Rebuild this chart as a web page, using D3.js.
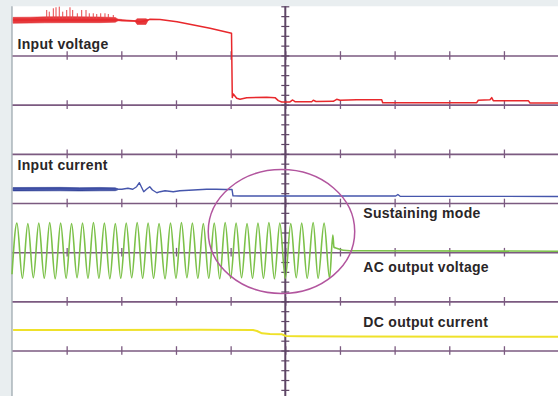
<!DOCTYPE html>
<html>
<head>
<meta charset="utf-8">
<script src="https://cdn.jsdelivr.net/npm/d3@7"></script>
<style>
  html, body { margin: 0; padding: 0; background: #e9eef0; }
  svg { display: block; }
  .label { font-family: "Liberation Sans", Arial, sans-serif; font-weight: bold; font-size: 14px; fill: #2a2627; letter-spacing: 0.3px; }
</style>
</head>
<body>
<div id="chart"></div>
<script>
// scope screen, in divisions: time -5..5, amplitude -4..4 (centre = 0,0)
const timeDivs = [-4, -3, -2, -1, 0, 1, 2, 3, 4];
const gridRows = [-3, -2, -1, 0, 1, 2, 3];

const traceLabels = ["Input voltage", "Input current", "Sustaining mode", "AC output voltage", "DC output current"];

// input voltage (red): [t, v]
const inputVoltage = [
  [-4.98, 3.722], [-3.06, 3.722], [-2.99, 3.712], [-2.75, 3.701], [-2.66, 3.681],
  [-2.51, 3.722], [-2.475, 3.736], [-2.292, 3.732], [-1.981, 3.685], [-1.377, 3.553],
  [-0.984, 3.451], [-0.970, 2.146], [-0.951, 2.217], [-0.889, 2.129], [-0.829, 2.109],
  [-0.706, 2.142], [-0.340, 2.150], [-0.188, 2.142], [-0.128, 2.081], [-0.066, 2.055],
  [0.086, 2.055], [0.135, 2.095], [0.177, 2.060], [0.483, 2.060], [0.512, 2.089],
  [0.562, 2.064], [0.878, 2.068], [0.940, 2.109], [1.001, 2.089], [1.306, 2.101],
  [1.764, 2.101], [1.782, 2.040], [3.502, 2.040], [3.531, 2.089], [3.745, 2.101],
  [3.776, 2.142], [3.805, 2.081], [4.446, 2.081], [4.477, 2.034], [5.0, 2.034]
];
// noisy envelope of the input voltage: [t, low, high]
const inputVoltageNoise = [
  [-4.98, 3.655, 3.775], [-4.67, 3.660, 3.778], [-4.40, 3.665, 3.785], [-3.94, 3.668, 3.790],
  [-3.39, 3.668, 3.782], [-3.11, 3.676, 3.772], [-3.06, 3.705, 3.738],
  [-2.75, 3.695, 3.708], [-2.71, 3.630, 3.748], [-2.55, 3.630, 3.748], [-2.51, 3.712, 3.728]
];
// glitches on the input voltage: [t, top]
const inputVoltageSpikes = [
  [-4.365, 3.925], [-4.318, 3.891], [-4.244, 3.960], [-4.195, 3.980], [-4.135, 3.993],
  [-4.072, 3.891], [-3.999, 3.925], [-3.939, 3.980], [-3.890, 3.925], [-3.805, 3.858],
  [-3.725, 3.925], [-3.646, 3.925], [-3.586, 3.858], [-3.513, 3.858], [-3.450, 3.844],
  [-3.377, 3.858], [-3.299, 3.858], [-3.238, 3.844], [-3.147, 3.823]
];

// input current (blue)
const inputCurrent = [
  [-4.98, 0.279], [-3.06, 0.279], [-2.99, 0.279], [-2.88, 0.299], [-2.79, 0.279],
  [-2.72, 0.331], [-2.67, 0.413], [-2.63, 0.319], [-2.59, 0.230], [-2.54, 0.279],
  [-2.48, 0.331], [-2.43, 0.264], [-2.35, 0.209], [-2.29, 0.230], [-2.20, 0.250],
  [-2.05, 0.230], [-1.93, 0.250], [-1.68, 0.264], [-1.44, 0.279], [-1.26, 0.279],
  [-1.10, 0.275], [-0.975, 0.275], [-0.957, 0.146], [-0.829, 0.142], [0.27, 0.142],
  [2.02, 0.142], [2.06, 0.173], [2.10, 0.138], [5.0, 0.132]
];
const inputCurrentNoise = [
  [-4.98, 0.245, 0.315], [-4.12, 0.248, 0.318], [-3.76, 0.244, 0.312],
  [-3.39, 0.248, 0.316], [-3.11, 0.250, 0.308], [-3.06, 0.268, 0.286]
];

// AC output voltage (green): turning points of the sine, then the cut-off
const acOutput = [
  [-5.00, -1.45],
  [-4.91, -0.41], [-4.81, -1.53], [-4.71, -0.42], [-4.61, -1.52], [-4.51, -0.41], [-4.41, -1.53],
  [-4.31, -0.40], [-4.21, -1.54], [-4.11, -0.41], [-4.01, -1.53], [-3.91, -0.42], [-3.81, -1.52],
  [-3.71, -0.41], [-3.61, -1.53], [-3.51, -0.40], [-3.41, -1.53], [-3.31, -0.41], [-3.21, -1.54],
  [-3.11, -0.42], [-3.01, -1.53], [-2.91, -0.41], [-2.81, -1.52], [-2.71, -0.40], [-2.61, -1.53],
  [-2.51, -0.41], [-2.41, -1.53], [-2.31, -0.42], [-2.20, -1.54], [-2.10, -0.41], [-2.00, -1.53],
  [-1.90, -0.40], [-1.80, -1.52], [-1.70, -0.41], [-1.60, -1.53], [-1.50, -0.42], [-1.40, -1.53],
  [-1.30, -0.41], [-1.20, -1.54], [-1.10, -0.40], [-1.00, -1.53], [-0.90, -0.41], [-0.80, -1.52],
  [-0.70, -0.42], [-0.60, -1.53], [-0.50, -0.41], [-0.40, -1.53], [-0.30, -0.40], [-0.20, -1.54],
  [-0.10, -0.41], [0.00, -1.53], [0.10, -0.42], [0.20, -1.52], [0.30, -0.41], [0.40, -1.53],
  [0.51, -0.40], [0.60, -1.53], [0.71, -0.41], [0.81, -1.53],
  [0.87, -0.65], [0.89, -0.90], [0.94, -0.92], [1.06, -0.96], [1.18, -0.97], [5.0, -0.98]
];

// DC output current (yellow)
const dcOutput = [
  [-4.98, -2.583], [-3.39, -2.583], [-1.56, -2.579], [-0.591, -2.583], [-0.518, -2.603],
  [-0.426, -2.650], [-0.280, -2.664], [-0.060, -2.670], [0.013, -2.705], [0.269, -2.711],
  [1.184, -2.715], [5.0, -2.721]
];

// highlighted region (ellipse): centre and radii in divisions
const highlight = { t: -0.07, v: -0.58, rt: 1.34, rv: 1.26 };

const W = 558, H = 396;
const x = d3.scaleLinear().domain([-5, 5]).range([12, 558.6]);
const y = d3.scaleLinear().domain([-4, 4]).range([399.7, 6.3]);

const svg = d3.select("#chart").append("svg")
  .attr("width", W).attr("height", H);

// screen
svg.append("rect")
  .attr("x", x(-5)).attr("y", y(4))
  .attr("width", x(5) - x(-5)).attr("height", H)
  .attr("fill", "#fff");
svg.append("line")
  .attr("x1", x(-5)).attr("x2", x(-5)).attr("y1", y(4)).attr("y2", H)
  .attr("stroke", "#98a3aa").attr("stroke-width", 1.2);

const grid = svg.append("g").attr("class", "grid");
const gridColor = "#7b5a80";

// horizontal rows, each with a tick at every time division
gridRows.forEach(r => {
  const row = grid.append("g").attr("transform", "translate(0," + y(r) + ")");
  row.call(d3.axisBottom(x).tickValues(timeDivs).tickSizeOuter(0).tickFormat(""));
  row.select(".domain").attr("stroke", gridColor).attr("stroke-width", 1.6);
  row.selectAll(".tick line").attr("y1", -4.3).attr("y2", 4.3)
    .attr("stroke", gridColor).attr("stroke-width", 1.3);
});

// centre vertical with minor ticks every 1/5 division
const minorTicks = d3.range(-4, 4.001, 0.2);
const centre = grid.append("g").attr("transform", "translate(" + x(0) + ",0)");
centre.call(d3.axisLeft(y).tickValues(minorTicks).tickSizeOuter(0).tickFormat(""));
centre.select(".domain").attr("d", "M0," + y(4) + "V" + H)
  .attr("stroke", "#5e4565").attr("stroke-width", 2);
centre.selectAll(".tick line").attr("x1", -4).attr("x2", 4)
  .attr("stroke", "#5e4565").attr("stroke-width", 1.2);

const line = d3.line().x(d => x(d[0])).y(d => y(d[1]));
const band = d3.area().x(d => x(d[0])).y0(d => y(d[1])).y1(d => y(d[2]));

const traces = svg.append("g").attr("fill", "none").attr("stroke-linejoin", "round");

// input voltage
traces.append("path").datum(inputVoltageNoise).attr("d", band)
  .attr("fill", "#e5393c").attr("stroke", "#e5393c").attr("stroke-width", 0.6);
traces.selectAll(".spike").data(inputVoltageSpikes).join("line")
  .attr("class", "spike")
  .attr("x1", d => x(d[0])).attr("x2", d => x(d[0]))
  .attr("y1", y(3.75)).attr("y2", d => y(d[1]))
  .attr("stroke", "#e8474a").attr("stroke-width", 1);
traces.append("path").datum(inputVoltage).attr("d", line)
  .attr("stroke", "#e8282c").attr("stroke-width", 1.5);

// input current
traces.append("path").datum(inputCurrentNoise).attr("d", band)
  .attr("fill", "#34459a").attr("stroke", "#34459a").attr("stroke-width", 0.6);
traces.append("path").datum(inputCurrent).attr("d", line)
  .attr("stroke", "#4656ac").attr("stroke-width", 1.4);

// AC output voltage
traces.append("path").datum(acOutput).attr("d", line.curve(d3.curveMonotoneX))
  .attr("stroke", "#7cc149").attr("stroke-width", 1.6);
line.curve(d3.curveLinear);

// DC output current
traces.append("path").datum(dcOutput).attr("d", line)
  .attr("stroke", "#efe12a").attr("stroke-width", 2);

// highlight ellipse
svg.append("ellipse")
  .attr("cx", x(highlight.t)).attr("cy", y(highlight.v))
  .attr("rx", x(highlight.rt) - x(0)).attr("ry", y(0) - y(highlight.rv))
  .attr("fill", "none").attr("stroke", "#b2559e").attr("stroke-width", 1.5);

// labels
const labelPos = [[17.5, 49], [17.5, 169.5], [363.3, 218.3], [363.3, 271.7], [363.3, 326.7]];
svg.append("g").selectAll("text").data(traceLabels).join("text")
  .attr("class", "label")
  .attr("x", (d, i) => labelPos[i][0]).attr("y", (d, i) => labelPos[i][1])
  .text(d => d);
</script>
</body>
</html>
